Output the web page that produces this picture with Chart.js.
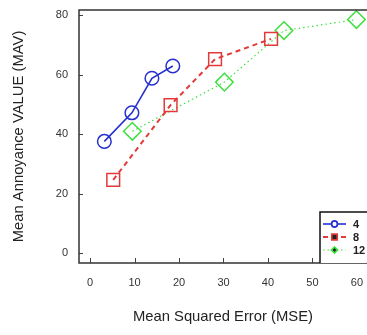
<!DOCTYPE html>
<html><head><meta charset="utf-8">
<script src="https://cdn.jsdelivr.net/npm/chart.js@4"></script>
<style>html,body{margin:0;padding:0;overflow:hidden;background:#fff;width:367px;height:335px}</style>
</head><body>
<canvas id="c" width="367" height="335" style="display:block"></canvas>
<script>
const seriesNames = ['4', '8', '12'];
const mse4 = [3.2, 9.4, 13.9, 18.6];
const mav4 = [37.6, 47.2, 58.8, 62.9];
const mse8 = [5.2, 18.1, 28.1, 40.7];
const mav8 = [24.7, 49.8, 65.2, 72.0];
const mse12 = [9.5, 30.2, 43.6, 59.9];
const mav12 = [41.0, 57.5, 74.8, 78.5];
const xTicks = [0, 10, 20, 30, 40, 50, 60];
const yTicks = [0, 20, 40, 60, 80];

const pts = (xs, ys) => xs.map((x, i) => ({x, y: ys[i]}));
const BLUE = '#2630d0', RED = '#e23a3a', GREEN = '#3ee03e';
const styles = [
  {c: BLUE, ps: 'circle', r: 6.8, dash: [], w: 1.6},
  {c: RED, ps: 'rect', r: 9, dash: [5, 4], w: 2},
  {c: GREEN, ps: 'rectRot', r: 8.8, dash: [1.5, 3], w: 1.2}
];
const allX = [mse4, mse8, mse12], allY = [mav4, mav8, mav12];
const FONT = '"Liberation Sans", Arial, sans-serif';

const frame = {
  id: 'frame',
  afterDatasetsDraw(chart) {
    const {ctx, chartArea: a, scales: {x, y}} = chart;
    ctx.save();
    ctx.strokeStyle = '#444'; ctx.lineWidth = 1;
    xTicks.forEach(v => { const px = Math.round(x.getPixelForValue(v)) + 0.5; ctx.beginPath(); ctx.moveTo(px, a.bottom); ctx.lineTo(px, a.bottom - 5); ctx.stroke(); });
    yTicks.forEach(v => { const py = Math.round(y.getPixelForValue(v)) + 0.5; ctx.beginPath(); ctx.moveTo(a.left, py); ctx.lineTo(a.left + 4, py); ctx.stroke(); });
    ctx.strokeStyle = '#333'; ctx.lineWidth = 1.5;
    ctx.beginPath();
    ctx.moveTo(a.right + 2, a.top); ctx.lineTo(a.left, a.top); ctx.lineTo(a.left, a.bottom); ctx.lineTo(a.right + 2, a.bottom);
    ctx.stroke();
    // legend
    const lx = 320, ly = 212;
    ctx.fillStyle = '#fff';
    ctx.fillRect(lx, ly, a.right - lx, a.bottom - ly);
    ctx.strokeStyle = '#111'; ctx.lineWidth = 1.5;
    ctx.beginPath();
    ctx.moveTo(a.right + 2, ly); ctx.lineTo(lx, ly); ctx.lineTo(lx, a.bottom);
    ctx.stroke();
    styles.forEach((s, i) => {
      const yy = 224 + i * 13;
      ctx.strokeStyle = s.c; ctx.lineWidth = s.w; ctx.setLineDash(s.dash);
      ctx.beginPath(); ctx.moveTo(323, yy); ctx.lineTo(346, yy); ctx.stroke();
      ctx.setLineDash([]); ctx.lineWidth = 1.4;
      Chart.helpers.drawPoint(ctx, {pointStyle: s.ps, radius: s.ps === 'rect' ? 4 : 3, borderWidth: 1.4}, 334.5, yy);
      ctx.stroke();
      ctx.fillStyle = '#222'; ctx.font = 'bold 11px ' + FONT;
      ctx.textBaseline = 'middle'; ctx.textAlign = 'left';
      ctx.fillText(seriesNames[i], 353, yy + 1);
    });
    ctx.restore();
  }
};

new Chart(document.getElementById('c'), {
  type: 'scatter',
  data: {
    datasets: styles.map((s, i) => ({
      label: seriesNames[i],
      data: pts(allX[i], allY[i]),
      showLine: true,
      borderColor: s.c, backgroundColor: 'transparent',
      borderWidth: s.w, borderDash: s.dash,
      pointStyle: s.ps, pointRadius: s.r, pointBorderWidth: 1.5,
      pointBorderColor: s.c, pointBackgroundColor: 'transparent'
    }))
  },
  options: {
    responsive: false, animation: false,
    layout: {autoPadding: false, padding: {top: 10, right: 0, left: 0, bottom: 0}},
    plugins: {legend: {display: false}, tooltip: {enabled: false}},
    scales: {
      x: {
        type: 'linear', min: -2.5, max: 62.25,
        afterBuildTicks: sc => { sc.ticks = xTicks.map(v => ({value: v})); },
        afterFit: sc => { sc.height = 72; },
        grid: {display: false, drawTicks: true, tickLength: 9}, border: {display: false},
        ticks: {padding: 4, color: '#333', font: {size: 11, family: FONT}, maxRotation: 0},
        title: {display: true, text: 'Mean Squared Error (MSE)', color: '#222', font: {size: 14.8, family: FONT}, padding: {top: 4, bottom: 9}}
      },
      y: {
        type: 'linear', min: -3.2, max: 81.7,
        afterBuildTicks: sc => { sc.ticks = yTicks.map(v => ({value: v})); },
        afterFit: sc => { sc.width = 79; },
        grid: {display: false, drawTicks: true, tickLength: 8}, border: {display: false},
        ticks: {padding: 3, color: '#333', font: {size: 11, family: FONT}},
        title: {display: true, text: 'Mean Annoyance VALUE (MAV)', color: '#222', font: {size: 14.8, family: FONT}, padding: {bottom: 4, top: 10}}
      }
    }
  },
  plugins: [frame]
});
</script>
</body></html>
